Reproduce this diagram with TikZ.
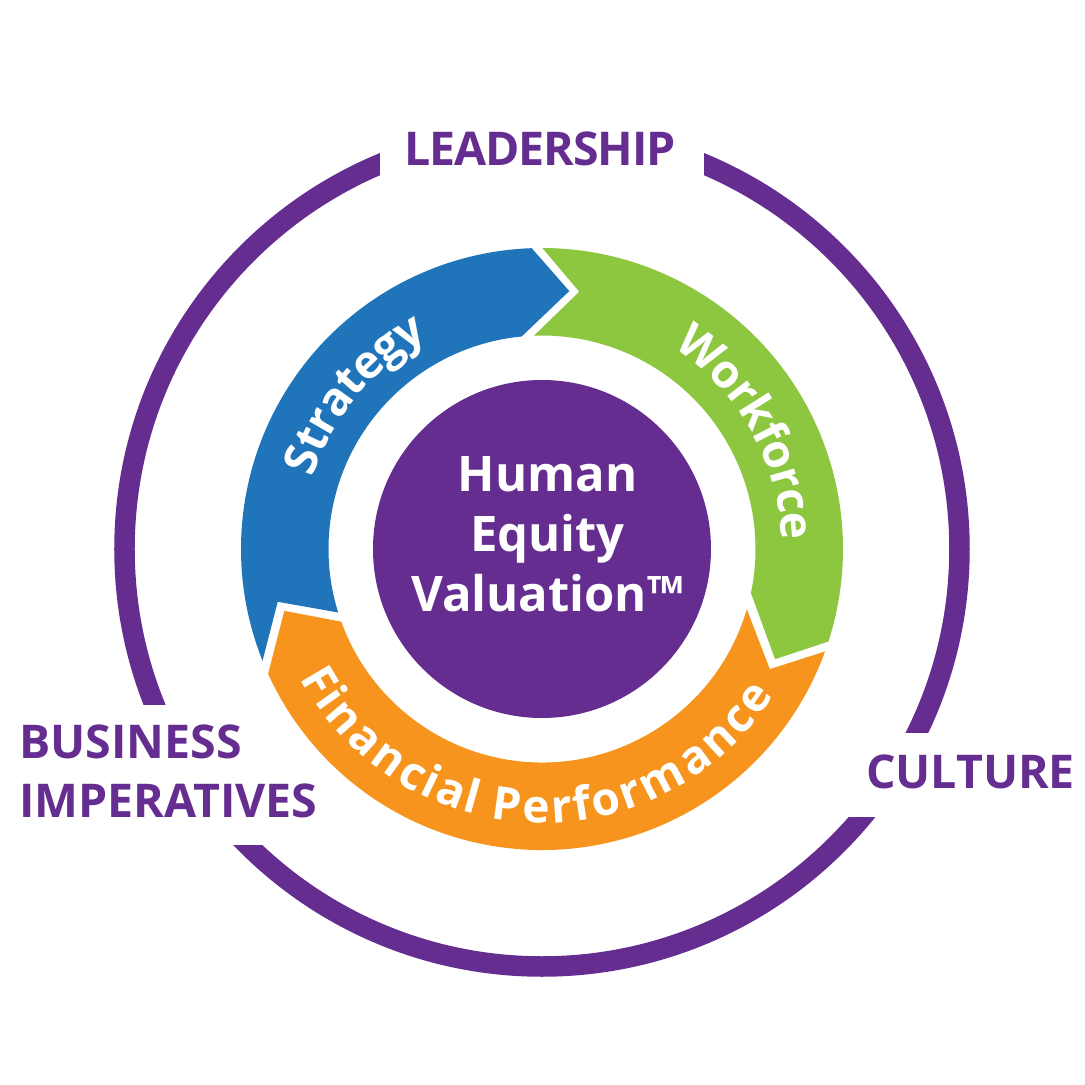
\documentclass[tikz,border=0pt]{standalone}
\usepackage{fontspec}
\setmainfont{Open Sans}
\usetikzlibrary{decorations.text}
\definecolor{hvpurple}{HTML}{652D90}
\definecolor{hvblue}{HTML}{1F74BA}
\definecolor{hvgreen}{HTML}{8DC63F}
\definecolor{hvorange}{HTML}{F7941E}
\newcommand\ringfont{\bfseries\fontsize{46}{46}\selectfont}
\tikzset{
  outerlabel/.style={text=hvpurple, font=\bfseries\fontsize{46.5}{59}\selectfont, inner sep=0pt},
  segment/.style={draw=none},
  ringtext/.style 2 args={decorate, decoration={text along path, text={|\ringfont|#1}, text align=center, text color=white, raise=#2}},
  gapcover/.style={fill=white, draw=none}
}
\begin{document}
\begin{tikzpicture}[x=1pt,y=1pt]
\useasboundingbox[fill=white] (-542,-536) rectangle (543,549);
% outer purple ring with gaps for the labels
\draw[hvpurple, line width=20.5pt] (0,0) circle[radius=417.5];
\fill[gapcover] (-162,360) rectangle (162,445);
\fill[gapcover] (-542,-296) rectangle (-262,-156);
\fill[gapcover] (262,-268) rectangle (543,-184);
% ring segments
\fill[hvblue, segment] (91.96:301) arc[start angle=91.96, end angle=201.8, radius=301]
  -- (191.3:269.5) -- (197.3:213.5) arc[start angle=197.3, end angle=95.46, radius=213.5]
  -- (83.96:259.4) -- cycle;
\fill[hvgreen, segment] (89.94:301) arc[start angle=89.94, end angle=-17.9, radius=301]
  -- (-25.3:257.8) -- (-11.9:213.5) arc[start angle=-11.9, end angle=92.15, radius=213.5]
  -- (81.75:260) -- cycle;
\fill[hvorange, segment] (204.5:301) arc[start angle=204.5, end angle=340.1, radius=301]
  -- (332.2:257.6) -- (343.6:213.5) arc[start angle=343.6, end angle=199.9, radius=213.5]
  -- (193.5:265) -- cycle;
% ring texts
\path[ringtext={Strategy}{-12pt}] (198:252) arc[start angle=198, end angle=83, radius=252];
\path[ringtext={Workforce}{-12pt}] (82:252) arc[start angle=82, end angle=-23, radius=252];
\path[ringtext={Financial Performance}{-28pt}] (198:246) arc[start angle=198, end angle=338, radius=246];
% centre
\node[circle, fill=hvpurple, minimum size=338pt, inner sep=0pt] (core) at (0,0) {};
\node[text=white, font=\bfseries\fontsize{49}{60}\selectfont, align=center, inner sep=0pt, anchor=south] (hev) at (5.5,-63.3) {Human\\Equity\\Valuation™};
% outer labels
\node[outerlabel, anchor=base, font=\bfseries\fontsize{46.5}{59}\selectfont\addfontfeature{LetterSpace=-2.5}] (lead) at (-2,383) {LEADERSHIP};
\node[outerlabel, align=left, anchor=south west] (biz) at (-523,-269) {BUSINESS\\IMPERATIVES};
\node[outerlabel, anchor=base] (cult) at (428.5,-239) {CULTURE};
\end{tikzpicture}
\end{document}
